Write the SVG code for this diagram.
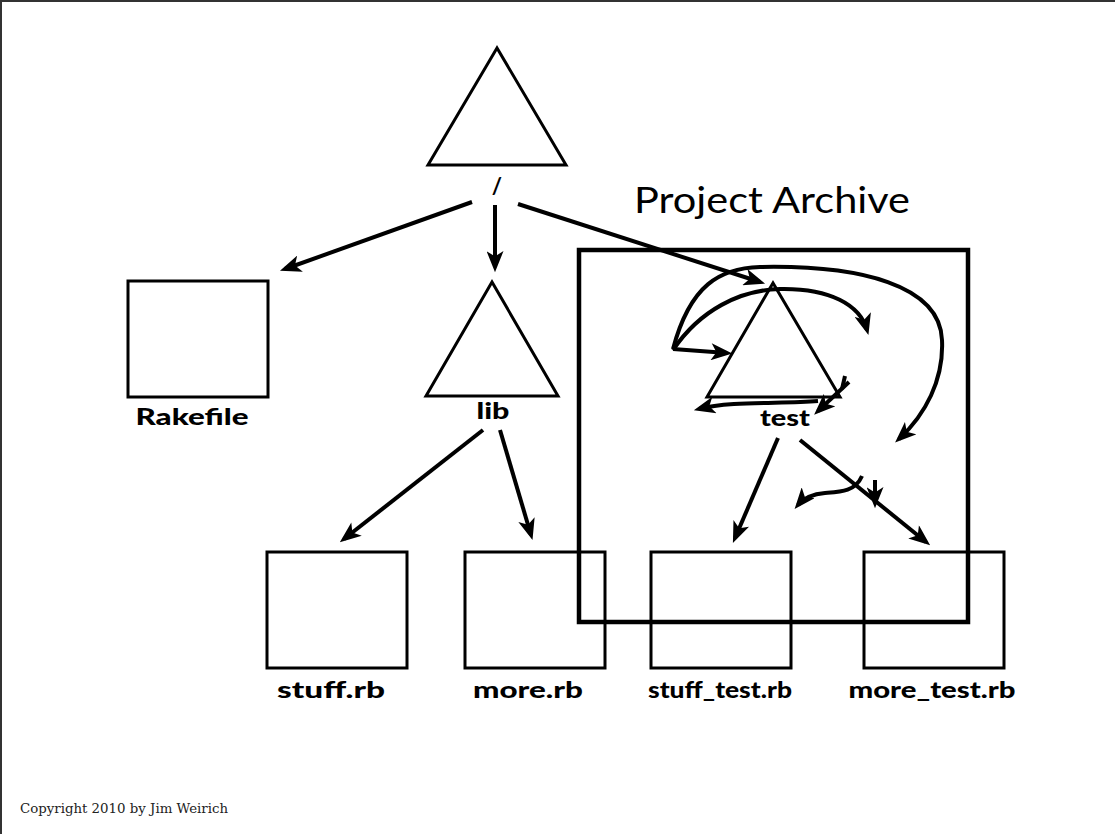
<svg xmlns="http://www.w3.org/2000/svg" width="1115" height="834" viewBox="0 0 1115 834">
<style>
.shape{fill:#fff;stroke:#000;stroke-width:3}
.frame{fill:none;stroke:#000;stroke-width:4.5}
.edge{fill:none;stroke:#000;stroke-width:4;stroke-linecap:butt}
.lbl{font-family:Lato,"Open Sans",sans-serif;font-weight:900;font-size:23px;text-anchor:middle;fill:#000}
.slash{font-family:Lato,"Open Sans",sans-serif;font-weight:bold;font-size:22px;text-anchor:middle;fill:#000}
.title{font-family:Lato,"Open Sans",sans-serif;font-size:36px;fill:#000}
.copy{font-family:"DejaVu Serif",serif;font-size:12px;fill:#222}
</style>
<defs>
<marker id="ah" viewBox="0 0 20 16" refX="15" refY="8" markerWidth="22" markerHeight="17" markerUnits="userSpaceOnUse" orient="auto">
<path d="M0,0 L20,8 L0,16 L5,8 z" fill="#000"/>
</marker>
</defs>
<rect x="0" y="0" width="1115" height="834" fill="#fff"/>
<path d="M1,834 V1 H1115" fill="none" stroke="#333" stroke-width="2"/>

<g id="root">
<polygon class="shape" points="497,48 428,165 566,165"/>
<text class="slash" x="497" y="194">/</text>
</g>
<g id="rakefile">
<rect class="shape" x="128" y="281" width="140" height="116"/>
<text class="lbl" x="192" y="425" textLength="113" lengthAdjust="spacingAndGlyphs">Rakefile</text>
</g>
<g id="lib">
<polygon class="shape" points="492,282 426,396 558,396"/>
<text class="lbl" x="493" y="419" textLength="33" lengthAdjust="spacingAndGlyphs">lib</text>
</g>
<g id="test">
<polygon class="shape" points="773,283 707,397 840,397"/>
<text class="lbl" x="785" y="426" textLength="50" lengthAdjust="spacingAndGlyphs">test</text>
</g>
<g id="stuff_rb">
<rect class="shape" x="267" y="552" width="140" height="116"/>
<text class="lbl" x="331" y="698" textLength="108" lengthAdjust="spacingAndGlyphs">stuff.rb</text>
</g>
<g id="more_rb">
<rect class="shape" x="465" y="552" width="140" height="116"/>
<text class="lbl" x="528" y="698" textLength="110" lengthAdjust="spacingAndGlyphs">more.rb</text>
</g>
<g id="stuff_test_rb">
<rect class="shape" x="651" y="552" width="140" height="116"/>
<text class="lbl" x="720" y="698" textLength="144" lengthAdjust="spacingAndGlyphs">stuff_test.rb</text>
</g>
<g id="more_test_rb">
<rect class="shape" x="864" y="552" width="140" height="116"/>
<text class="lbl" x="932" y="698" textLength="167" lengthAdjust="spacingAndGlyphs">more_test.rb</text>
</g>
<g id="project_archive">
<rect class="frame" x="579" y="250" width="389" height="372"/>
<text class="title" x="634" y="213" textLength="276" lengthAdjust="spacingAndGlyphs">Project Archive</text>
</g>

<g id="connectors">
<line class="edge" x1="472" y1="202" x2="285" y2="269" marker-end="url(#ah)"/>
<line class="edge" x1="495" y1="205" x2="495" y2="267" marker-end="url(#ah)"/>
<line class="edge" x1="518" y1="204" x2="760" y2="282" marker-end="url(#ah)"/>
<line class="edge" x1="483" y1="430" x2="344" y2="539" marker-end="url(#ah)"/>
<line class="edge" x1="500" y1="430" x2="531" y2="535" marker-end="url(#ah)"/>
<line class="edge" x1="778" y1="438" x2="735" y2="538" marker-end="url(#ah)"/>
<line class="edge" x1="800" y1="440" x2="926" y2="542" marker-end="url(#ah)"/>
<path class="edge" d="M673,349 C690,285 720,268 760,267 C860,265 940,285 942,340 C944,380 925,415 899,439" marker-end="url(#ah)"/>
<path class="edge" d="M673,350 C700,310 740,290 780,289 C830,288 860,305 867,330" marker-end="url(#ah)"/>
<line class="edge" x1="673" y1="349" x2="727" y2="353" marker-end="url(#ah)"/>
<path class="edge" d="M818,401 C780,404 730,401 699,409" marker-end="url(#ah)"/>
<line class="edge" x1="849" y1="382" x2="818" y2="411" marker-end="url(#ah)"/>
<line class="edge" x1="845" y1="376" x2="842" y2="389"/>
<path class="edge" d="M862,476 C855,492 840,492 825,493 C812,494 803,499 798,505" marker-end="url(#ah)"/>
<line class="edge" x1="875" y1="480" x2="875" y2="503" marker-end="url(#ah)"/>
</g>

<text class="copy" x="20" y="813" textLength="208" lengthAdjust="spacingAndGlyphs">Copyright 2010 by Jim Weirich</text>
</svg>
